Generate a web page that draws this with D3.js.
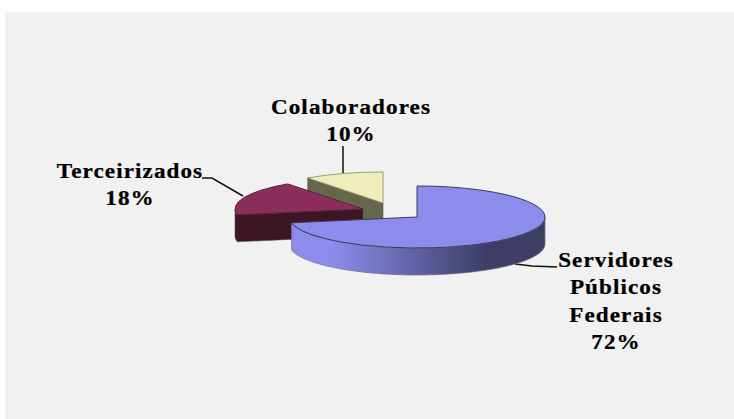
<!DOCTYPE html>
<html><head><meta charset="utf-8">
<style>html,body{margin:0;padding:0;background:#fff}svg{display:block}
text{font-family:"Liberation Serif","Times New Roman",serif;font-weight:bold;fill:#000;font-size:21px;letter-spacing:1px;stroke:#000;stroke-width:.25px}</style>
<script src="https://cdn.jsdelivr.net/npm/d3@7/dist/d3.min.js"></script>
</head><body><div id="chart"></div>
<script>
const categories = ["Servidores Públicos Federais","Terceirizados","Colaboradores"];
const values = [72,18,10];
const colors = ["#8c8ced","#8c2d5c","#eeeebb"];
const wallColors = ["#3d3d66","#3d1228","#66664c"];
const labelLines = [["Servidores","Públicos","Federais","72%"],["Terceirizados","18%"],["Colaboradores","10%"]];

const W=734,H=419,rx=128,ry=31,depth=27;
const centers=[[417,217],[363,209],[383,203]];
const labelPos=[[616,267],[130,178],[351,114]];
const svg=d3.select("#chart").append("svg").attr("width",W).attr("height",H);
svg.append("rect").attr("x",5).attr("y",12).attr("width",W-5).attr("height",H-12).attr("fill","#f1f1f1");

const defs=svg.append("defs");
const grad=defs.append("linearGradient").attr("id","wall").attr("gradientUnits","userSpaceOnUse")
  .attr("x1",291).attr("x2",545).attr("y1",0).attr("y2",0);
[[0,"#8c8ced"],[.16,"#8c8ced"],[.77,"#3d3d66"],[1,"#3d3d66"]].forEach(s=>grad.append("stop").attr("offset",s[0]).attr("stop-color",s[1]));
defs.append("filter").attr("id","soft").attr("x","-5%").attr("y","-5%").attr("width","110%").attr("height","110%")
  .append("feGaussianBlur").attr("stdDeviation",0.35);

const pie=d3.pie().sort(null).value(d=>d);
const arcs=pie(values);
const arcGen=d3.arc().innerRadius(0).outerRadius(rx);

const px=(c,a)=>c[0]+rx*Math.sin(a), py=(c,a)=>c[1]-ry*Math.cos(a);

// leader lines
const leaders=[[[515,264],[532,266],[557,267]],[[202,178],[212,178],[243,196]],[[343,146],[343,176]]];
const lineGen=d3.line();
svg.selectAll("path.leader").data(leaders).join("path").attr("class","leader")
  .attr("d",lineGen).attr("fill","none").attr("stroke","#111").attr("stroke-width",1.5);

const g=svg.append("g").attr("filter","url(#soft)");
// back to front: yellow, burgundy, blue
[2,1,0].forEach(i=>{
  const c=centers[i],d=arcs[i],s=g.append("g");
  if(i===0){
    const angs=d3.range(d.startAngle+Math.PI/2,d.endAngle+1e-6,0.02);
    const wall=d3.area().x(a=>px(c,a)).y0(a=>py(c,a)).y1(a=>py(c,a)+depth);
    s.append("path").attr("d",wall(angs)).attr("fill","url(#wall)").attr("stroke","#6f6f8a").attr("stroke-width",.7);
  } else {
    const a=d.startAngle, a2=Math.max(a,Math.min(d.endAngle,Math.PI*1.5));
    const rim=d3.range(a,a2+1e-6,0.02);
    const top=rim.map(t=>[px(c,t),py(c,t)]);
    const bottom=rim.map(t=>[px(c,t),py(c,t)+depth]).reverse();
    const pts=[...top.slice().reverse(),c,[c[0],c[1]+depth],...bottom.reverse()];
    s.append("path").attr("d",lineGen(pts)+"Z").attr("fill",wallColors[i]).attr("stroke","#555").attr("stroke-width",.6);
  }
  s.append("path").attr("d",arcGen(d))
    .attr("transform",`translate(${c[0]},${c[1]}) scale(1,${ry/rx})`)
    .attr("fill",colors[i]).attr("stroke",i===0?"#3a3a5a":(i===1?"#5a2040":"#9a9a80"))
    .attr("stroke-width",1).attr("vector-effect","non-scaling-stroke");
});

// labels
labelLines.forEach((ls,i)=>{
  const t=svg.append("text").attr("text-anchor","middle")
    .attr("transform",`translate(${labelPos[i][0]},${labelPos[i][1]}) scale(1.1,1)`);
  ls.forEach((l,j)=>t.append("tspan").attr("x",0).attr("y",j*27.3).text(l));
});
</script></body></html>
